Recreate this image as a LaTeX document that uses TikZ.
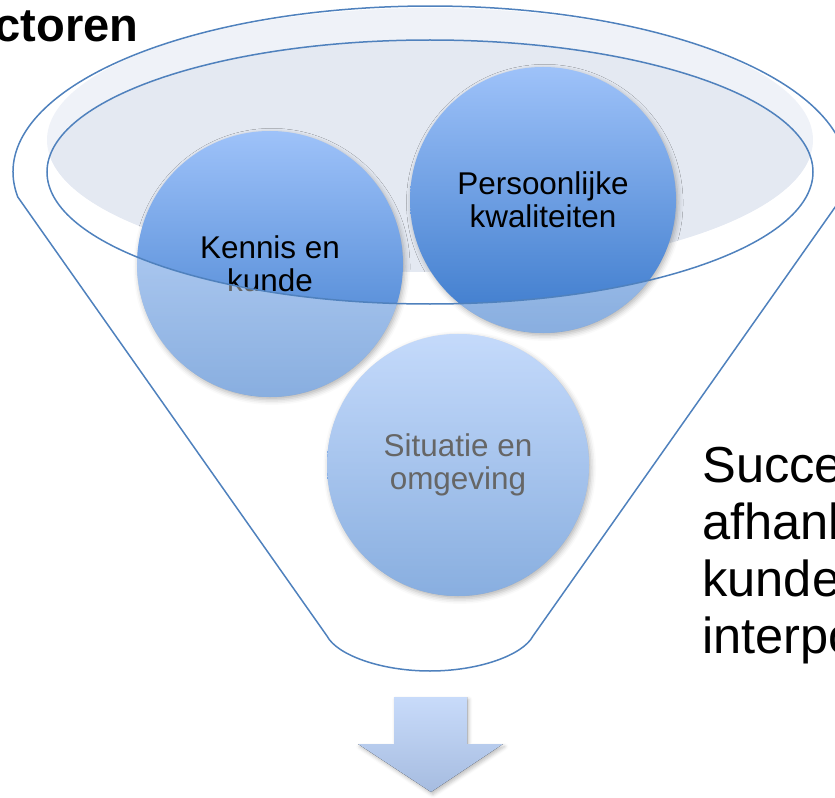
\documentclass[tikz,border=0pt]{standalone}
\usepackage{fontspec}
\setmainfont{Liberation Sans}
\usepackage{tikz}
\usetikzlibrary{shadows.blur}

\definecolor{rimblue}{HTML}{4F81BD}
\definecolor{bandlight}{HTML}{EFF2F8}
\definecolor{banddark}{HTML}{E4E9F2}
\definecolor{balltop}{HTML}{9EC2F9}
\definecolor{ballbottom}{HTML}{3A79CB}
\definecolor{arrowtop}{HTML}{C8DBFA}
\definecolor{arrowbottom}{HTML}{A6BCE0}

\tikzset{
  rim/.style={draw=rimblue, line width=0.3mm},
  ball/.style={circle, inner sep=0pt, align=center, top color=balltop, bottom color=ballbottom,
    font=\fontsize{17.9}{18.9}\selectfont,
    blur shadow={shadow xshift=1pt, shadow yshift=-1.5pt, shadow blur radius=3pt, shadow opacity=30}},
  glass/.style={white, fill opacity=0.4, even odd rule}
}
\def\inner{(430,625) ellipse [x radius=383, y radius=132]}

\begin{document}
\begin{tikzpicture}[x=0.2mm, y=0.2mm]
			%%%%% START %%%%%
			\useasboundingbox (0,0) rectangle (835,797);
			\clip (0,0) rectangle (835,797);
			
			% rim of the funnel
			\fill[bandlight] (430,657) ellipse [x radius=383, y radius=132];
			\begin{scope}
				\clip (430,657) ellipse [x radius=383, y radius=132];
				\fill[banddark] \inner;
			\end{scope}
			
			% the three factors
			\node[ball, minimum size=53.2mm] (kennis) at (270,533) {Kennis en\\kunde};
			\node[ball, minimum size=53.2mm] (persoon) at (543,597) {Persoonlijke\\kwaliteiten};
			\node[ball, minimum size=52.4mm] (situatie) at (458,332) {Situatie en\\omgeving};
			
			\begin{scope}
				\clip (kennis.center) circle (133);
				\fill[glass] (0,0) rectangle (835,797) \inner;
			\end{scope}
			\begin{scope}
				\clip (persoon.center) circle (133);
				\fill[glass] (0,0) rectangle (835,797) \inner;
			\end{scope}
			\begin{scope}
				\clip (situatie.center) circle (131);
				\fill[glass] (0,0) rectangle (835,797) \inner;
			\end{scope}
			
			% outline
			\draw[rim] \inner;
			\draw[rim] (17.8,600) arc (188.66:-8.66:417 and 166) -- (533,161)
				.. controls (523,142) and (479,126) .. (430,126)
				.. controls (381,126) and (337,142) .. (327,161) -- cycle;
			
			% outlet
			\fill[top color=arrowtop, bottom color=arrowbottom,
				blur shadow={shadow xshift=1pt, shadow yshift=-1.5pt, shadow blur radius=2pt, shadow opacity=25}]
				(394,100) -- (467,100) -- (467,53) -- (503,53) -- (431,5) -- (358,53) -- (394,53) -- cycle;
			
			\node[anchor=base east, inner sep=0pt, font=\fontsize{26.8}{30}\selectfont\bfseries] (titel) at (139,755) {ctoren};
			\node[anchor=north west, inner sep=0pt, align=left, font=\fontsize{28.8}{32.4}\selectfont] (succes) at (702,350)
				{Succe\\afhank\\kunde\\interpo};
			%%%%% END %%%%%
\end{tikzpicture}
\end{document}
